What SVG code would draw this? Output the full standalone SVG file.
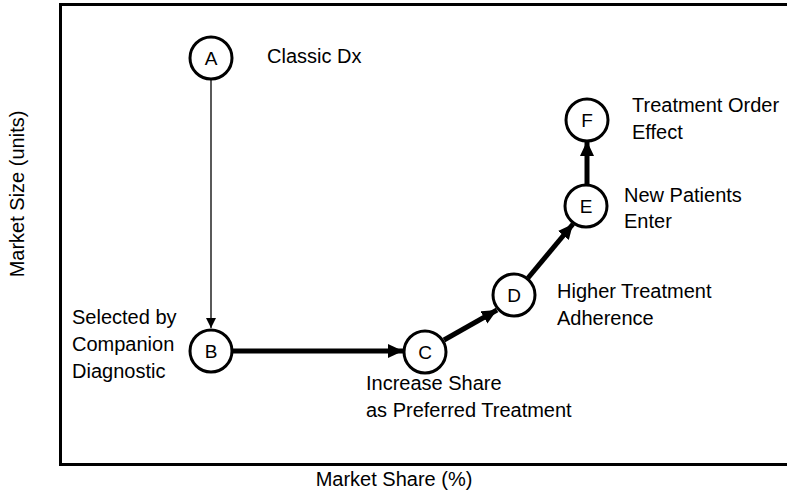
<svg xmlns="http://www.w3.org/2000/svg" width="787" height="497" viewBox="0 0 787 497">
<style>
text{font-family:"Liberation Sans",Arial,sans-serif;font-size:20px;fill:#000}
.node circle{fill:#fff;stroke:#000;stroke-width:3}
.node text.id{text-anchor:middle;font-size:19px}
.thin{stroke:#000;stroke-width:1.3;fill:none}
.thick{stroke:#000;stroke-width:5;fill:none}
</style>
<defs>
<marker id="ah" markerWidth="10" markerHeight="12" refX="10" refY="5" orient="auto" markerUnits="userSpaceOnUse"><path d="M0,0 L10,5 L0,10 Z" fill="#000"/></marker>
<marker id="ahT" markerWidth="20" markerHeight="20" refX="15" refY="7" orient="auto" markerUnits="userSpaceOnUse"><path d="M0,0 L15,7 L0,14 Z" fill="#000"/></marker>
</defs>
<rect x="60.5" y="4.5" width="740" height="460" fill="none" stroke="#000" stroke-width="3"/>
<text x="394" y="486" text-anchor="middle">Market Share (%)</text>
<text transform="translate(24,194) rotate(-90)" text-anchor="middle">Market Size (units)</text>
<g id="connectors">
<line class="thin" x1="211" y1="80" x2="211" y2="328" marker-end="url(#ah)"/>
<line class="thick" x1="233" y1="351" x2="403" y2="351" marker-end="url(#ahT)"/>
<line class="thick" x1="444" y1="340" x2="497" y2="310" marker-end="url(#ahT)"/>
<line class="thick" x1="528" y1="278" x2="573" y2="224" marker-end="url(#ahT)"/>
<line class="thick" x1="587" y1="184" x2="587" y2="141" marker-end="url(#ahT)"/>
</g>
<g id="A" class="node"><circle cx="211" cy="58" r="21"/><text class="id" x="211" y="65">A</text><text x="267" y="63">Classic Dx</text></g>
<g id="B" class="node"><circle cx="211" cy="351" r="21"/><text class="id" x="211" y="358">B</text>
<text x="72" y="324">Selected by</text>
<text x="72" y="351">Companion</text>
<text x="72" y="378">Diagnostic</text></g>
<g id="C" class="node"><circle cx="425" cy="352" r="21"/><text class="id" x="425" y="359">C</text>
<text x="366" y="390">Increase Share</text>
<text x="366" y="417">as Preferred Treatment</text></g>
<g id="D" class="node"><circle cx="514" cy="295" r="21"/><text class="id" x="514" y="302">D</text>
<text x="557" y="298">Higher Treatment</text>
<text x="557" y="325">Adherence</text></g>
<g id="E" class="node"><circle cx="586" cy="206" r="21"/><text class="id" x="586" y="213">E</text>
<text x="624" y="202">New Patients</text>
<text x="624" y="228">Enter</text></g>
<g id="F" class="node"><circle cx="587" cy="120" r="21"/><text class="id" x="587" y="127">F</text>
<text x="632" y="112">Treatment Order</text>
<text x="632" y="139">Effect</text></g>
</svg>
